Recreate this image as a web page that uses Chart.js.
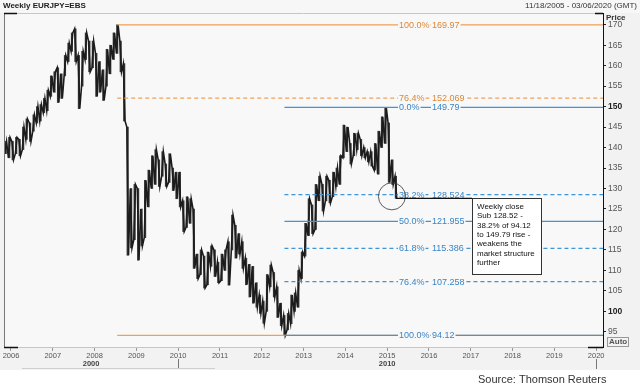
<!DOCTYPE html>
<html>
<head>
<meta charset="utf-8">
<script src="https://cdn.jsdelivr.net/npm/chart.js@4"></script>
<style>
  html, body { margin: 0; padding: 0; background: #fff; }
  #wrap { width: 640px; height: 392px; }
</style>
</head>
<body>
<div id="wrap"><canvas id="fx" width="640" height="392"></canvas></div>
<script>
// monthly high/low ranges
const months = [
  '2005-11', '2005-12',
  '2006-01', '2006-02', '2006-03', '2006-04', '2006-05', '2006-06', '2006-07', '2006-08', '2006-09', '2006-10', '2006-11', '2006-12',
  '2007-01', '2007-02', '2007-03', '2007-04', '2007-05', '2007-06', '2007-07', '2007-08', '2007-09', '2007-10', '2007-11', '2007-12',
  '2008-01', '2008-02', '2008-03', '2008-04', '2008-05', '2008-06', '2008-07', '2008-08', '2008-09', '2008-10', '2008-11', '2008-12',
  '2009-01', '2009-02', '2009-03', '2009-04', '2009-05', '2009-06', '2009-07', '2009-08', '2009-09', '2009-10', '2009-11', '2009-12',
  '2010-01', '2010-02', '2010-03', '2010-04', '2010-05', '2010-06', '2010-07', '2010-08', '2010-09', '2010-10', '2010-11', '2010-12',
  '2011-01', '2011-02', '2011-03', '2011-04', '2011-05', '2011-06', '2011-07', '2011-08', '2011-09', '2011-10', '2011-11', '2011-12',
  '2012-01', '2012-02', '2012-03', '2012-04', '2012-05', '2012-06', '2012-07', '2012-08', '2012-09', '2012-10', '2012-11', '2012-12',
  '2013-01', '2013-02', '2013-03', '2013-04', '2013-05', '2013-06', '2013-07', '2013-08', '2013-09', '2013-10', '2013-11', '2013-12',
  '2014-01', '2014-02', '2014-03', '2014-04', '2014-05', '2014-06', '2014-07', '2014-08', '2014-09', '2014-10', '2014-11', '2014-12',
  '2015-01', '2015-02', '2015-03'
];
const lows = [
  138.5, 137.5,
  137.0, 138.5, 138.0, 139.5, 142.0, 141.5, 144.0, 146.0, 146.5, 148.5, 149.0, 152.5,
  153.5, 151.0, 152.0, 157.5, 161.0, 163.5, 161.0, 149.5, 155.0, 161.5, 158.5, 159.5,
  152.5, 153.5, 151.5, 155.0, 158.0, 161.5, 163.0, 158.5, 146.5, 113.7, 115.5, 117.5,
  112.5, 116.0, 118.0, 125.5, 130.0, 131.0, 130.5, 133.0, 130.5, 131.5, 129.5, 127.5,
  125.5, 119.5, 120.5, 121.5, 110.5, 108.0, 109.0, 105.7, 106.5, 111.0, 108.5, 107.0,
  107.5, 110.0, 106.4, 115.0, 113.0, 114.0, 110.5, 106.5, 103.5, 102.0, 101.0, 99.5,
  97.1, 100.0, 106.0, 103.5, 98.5, 96.5, 94.12, 95.5, 97.0, 100.0, 101.0, 108.0,
  113.5, 118.5, 119.0, 120.0, 127.0, 124.5, 127.0, 126.5, 128.0, 130.5, 131.0, 137.5,
  139.0, 136.0, 138.0, 139.5, 138.0, 137.5, 136.5, 135.5, 134.5, 133.5, 140.0, 141.0,
  131.5, 131.0, 127.6
];
const highs = [
  141.5, 142.5,
  141.5, 142.5, 142.0, 145.0, 147.0, 146.0, 148.0, 150.0, 150.5, 152.0, 154.0, 157.5,
  158.5, 159.5, 158.0, 162.5, 165.5, 168.0, 169.0, 162.5, 163.5, 168.0, 166.0, 166.0,
  163.0, 161.0, 159.0, 164.0, 165.0, 168.0, 169.97, 166.0, 160.5, 145.0, 130.0, 131.0,
  130.0, 125.0, 132.0, 134.5, 138.0, 139.5, 137.0, 139.0, 136.0, 138.5, 135.0, 134.0,
  134.0, 127.0, 128.0, 127.5, 125.0, 114.0, 115.0, 113.5, 114.5, 116.0, 115.0, 112.0,
  114.0, 115.0, 117.0, 123.5, 121.0, 119.0, 117.0, 113.0, 111.5, 111.0, 107.0, 104.0,
  102.5, 109.0, 111.3, 109.5, 106.0, 102.0, 99.0, 99.5, 104.0, 104.5, 110.0, 114.5,
  121.5, 127.5, 126.0, 131.0, 133.0, 131.0, 133.0, 132.0, 134.0, 135.0, 138.0, 145.5,
  145.0, 141.0, 143.5, 143.5, 142.0, 140.0, 139.0, 139.0, 141.0, 144.0, 147.5, 149.79,
  146.0, 137.0, 133.0
];

// fibonacci retracements
const orangeStart = '2008-07';
const orangePcts = ['100.0%', '76.4%', '0.0%'];
const orangeValues = [169.97, 152.069, 94.12];
const blueStart = '2012-07';
const bluePcts = ['0.0%', '38.2%', '50.0%', '61.8%', '76.4%', '100.0%'];
const blueValues = [149.79, 128.524, 121.955, 115.386, 107.258, 94.12];

const years = [2006, 2007, 2008, 2009, 2010, 2011, 2012, 2013, 2014, 2015, 2016, 2017, 2018, 2019, 2020];
const priceTicks = [95, 100, 105, 110, 115, 120, 125, 130, 135, 140, 145, 150, 155, 160, 165, 170];
const decades = ['2000', '2010'];
const decadeSpans = [[2005.833, 2010], [2010, 2020]];

const noteLines = ['Weekly close', 'Sub 128.52 -', '38.2% of 94.12', 'to 149.79 rise -',
  'weakens the', 'market structure', 'further'];

const xMin = 2005.833, xMax = 2020.163;
const yMin = 91.3, yMax = 172.86;
const FONT = '"Liberation Sans", Arial, sans-serif';

function monthToYear(s) {
  const [y, m] = s.split('-').map(Number);
  return y + (m - 0.5) / 12;
}

// the month's low and high, visited in the order the market moved
const pathPoints = [];
months.forEach((m, i) => {
  const t = monthToYear(m);
  const prevMid = i > 0 ? (lows[i - 1] + highs[i - 1]) / 2 : lows[i];
  const falling = (lows[i] + highs[i]) / 2 < prevMid;
  const first = falling ? highs[i] : lows[i];
  const second = falling ? lows[i] : highs[i];
  pathPoints.push({ x: t - 0.02, y: first }, { x: t + 0.02, y: second });
});

const ORANGE_LINE = '#f0a055', ORANGE_TEXT = '#dc8736';
const BLUE_LINE = '#3f95d6', BLUE_TEXT = '#3a84c4';
const PLOT_BG = '#f8f8f8';

function isDashed(pct) {
  return !(pct === '0.0%' || pct === '50.0%' || pct === '100.0%');
}

function fibDataset(start, pct, value, color) {
  return {
    type: 'line',
    data: [{ x: monthToYear(start), y: value }, { x: xMax, y: value }],
    borderColor: color,
    backgroundColor: color,
    borderWidth: 1.2,
    borderDash: isDashed(pct) ? [4, 3] : [],
    pointRadius: 0,
    fill: false,
  };
}

const fibSets = [];
bluePcts.forEach((p, i) => fibSets.push(fibDataset(blueStart, p, blueValues[i], BLUE_LINE)));
orangePcts.forEach((p, i) => fibSets.push(fibDataset(orangeStart, p, orangeValues[i], ORANGE_LINE)));

const decor = {
  id: 'decor',
  beforeDraw(chart) {
    const { ctx, chartArea: a } = chart;
    ctx.save();
    ctx.fillStyle = '#ffffff';
    ctx.fillRect(0, 0, 640, 392);
    ctx.fillStyle = '#f2f2f2';
    ctx.fillRect(0, 0, 640, 370);
    ctx.fillStyle = '#f7f7f7';
    ctx.fillRect(0, 0, 640, a.top);
    ctx.fillStyle = PLOT_BG;
    ctx.fillRect(a.left, a.top, a.right - a.left, a.bottom - a.top);
    ctx.restore();
  },
  afterDatasetsDraw(chart) {
    const { ctx, chartArea: a, scales: { x, y } } = chart;
    ctx.save();

    // fib labels sitting on the lines
    ctx.font = '9px ' + FONT;
    ctx.textBaseline = 'middle';
    const label = (pct, val, color) => {
      const py = Math.round(y.getPixelForValue(val)) + 0.5;
      const x1 = a.left + 395, x2 = a.left + 428;
      ctx.fillStyle = PLOT_BG;
      ctx.fillRect(x1 - 1, py - 5, ctx.measureText(pct).width + 2, 10);
      ctx.fillRect(x2 - 1, py - 5, ctx.measureText(String(val)).width + 2, 10);
      ctx.fillStyle = color;
      ctx.fillText(pct, x1, py);
      ctx.fillText(String(val), x2, py);
    };
    orangePcts.forEach((p, i) => {
      if (!blueValues.includes(orangeValues[i])) label(p, orangeValues[i], ORANGE_TEXT);
    });
    bluePcts.forEach((p, i) => label(p, blueValues[i], BLUE_TEXT));

    // circle on the last weekly close and the note box
    const last = months.length - 1;
    const cx = x.getPixelForValue(monthToYear(months[last]));
    const cy = y.getPixelForValue(lows[last]);
    ctx.strokeStyle = '#333';
    ctx.lineWidth = 0.8;
    ctx.beginPath();
    ctx.arc(cx - 4, cy - 2, 13.5, 0, Math.PI * 2);
    ctx.stroke();

    const bx = 472, bw = 69, bh = 76;
    ctx.strokeStyle = '#111';
    ctx.lineWidth = 1.2;
    ctx.beginPath();
    ctx.moveTo(cx, cy);
    ctx.lineTo(bx, cy);
    ctx.stroke();
    ctx.fillStyle = '#ffffff';
    ctx.fillRect(bx, cy, bw, bh);
    ctx.lineWidth = 1;
    ctx.strokeStyle = '#333';
    ctx.strokeRect(bx + 0.5, Math.round(cy) + 0.5, bw, bh);
    ctx.fillStyle = '#111';
    ctx.font = '8px ' + FONT;
    noteLines.forEach((t, i) => ctx.fillText(t, bx + 5, cy + 8.5 + i * 9.3));

    // frame with dark corners
    ctx.lineWidth = 1;
    ctx.strokeStyle = '#c6c6c6';
    ctx.beginPath();
    ctx.moveTo(a.left, a.top + 0.5); ctx.lineTo(a.right, a.top + 0.5);
    ctx.moveTo(a.left, a.bottom + 0.5); ctx.lineTo(a.right, a.bottom + 0.5);
    ctx.stroke();
    ctx.strokeStyle = '#777';
    ctx.beginPath();
    ctx.moveTo(a.left + 0.5, a.top); ctx.lineTo(a.left + 0.5, a.bottom);
    ctx.stroke();
    ctx.strokeStyle = '#111';
    ctx.lineWidth = 1.5;
    ctx.beginPath();
    ctx.moveTo(a.left, a.top + 0.5); ctx.lineTo(a.left + 13, a.top + 0.5);
    ctx.moveTo(a.left, a.bottom + 0.5); ctx.lineTo(a.left + 14, a.bottom + 0.5);
    ctx.moveTo(a.right - 15, a.bottom + 0.5); ctx.lineTo(a.right, a.bottom + 0.5);
    ctx.moveTo(a.right - 8, a.top + 0.5); ctx.lineTo(a.right, a.top + 0.5);
    ctx.stroke();

    // texts around the chart
    ctx.textBaseline = 'middle';
    ctx.fillStyle = '#222';
    ctx.font = 'bold 8px ' + FONT;
    ctx.textAlign = 'left';
    ctx.fillText('Weekly EURJPY=EBS', 3, 6);
    ctx.font = '8px ' + FONT;
    ctx.textAlign = 'right';
    ctx.fillStyle = '#333';
    ctx.fillText('11/18/2005 - 03/06/2020 (GMT)', 637, 6);
    ctx.textAlign = 'left';
    ctx.font = 'bold 8px ' + FONT;
    ctx.fillText('Price', 606, 17.5);

    ctx.fillStyle = '#555';
    ctx.fillText('Auto', 609, 342);
    ctx.strokeStyle = '#999';
    ctx.lineWidth = 1;
    ctx.strokeRect(607.5, 337.5, 21, 9);

    // decade row
    ctx.textAlign = 'center';
    ctx.fillStyle = '#444';
    ctx.font = 'bold 7.5px ' + FONT;
    decades.forEach((d, i) => {
      const [s, e] = decadeSpans[i];
      ctx.fillText(d, (x.getPixelForValue(s) + x.getPixelForValue(e)) / 2, 364);
    });
    ctx.strokeStyle = '#777';
    ctx.beginPath();
    [2010, 2020].forEach(v => {
      const px = Math.round(x.getPixelForValue(v)) + 0.5;
      ctx.moveTo(px, 359); ctx.lineTo(px, 369);
    });
    ctx.stroke();
    ctx.strokeStyle = '#cfcfcf';
    ctx.beginPath();
    ctx.moveTo(22, 368.5); ctx.lineTo(215, 368.5);
    ctx.stroke();

    ctx.textAlign = 'left';
    ctx.fillStyle = '#333';
    ctx.font = '11px ' + FONT;
    ctx.fillText('Source: Thomson Reuters', 478, 380);
    ctx.restore();
  }
};

new Chart(document.getElementById('fx'), {
  type: 'bar',
  data: {
    datasets: [
      ...fibSets,
      {
        type: 'line',
        data: pathPoints,
        borderColor: '#1c1c1c',
        borderWidth: 1.6,
        pointRadius: 0,
        tension: 0,
        fill: false,
      },
      {
        type: 'bar',
        data: months.map((m, i) => ({ x: monthToYear(m), y: [lows[i], highs[i]] })),
        backgroundColor: '#3a3a3a',
        borderWidth: 0,
        barThickness: 1.5,
      },
    ],
  },
  options: {
    responsive: false,
    animation: false,
    events: [],
    layout: { padding: { left: 4, top: 13, right: 0, bottom: 0 } },
    plugins: { legend: { display: false }, tooltip: { enabled: false } },
    scales: {
      x: {
        type: 'linear',
        min: xMin,
        max: xMax,
        offset: false,
        afterBuildTicks: s => { s.ticks = years.map(v => ({ value: v })); },
        afterFit: s => { s.height = 45; s.paddingLeft = 0; s.paddingRight = 0; },
        grid: { drawOnChartArea: false, offset: false, tickLength: 4, color: '#999' },
        border: { display: false },
        ticks: {
          color: '#555',
          padding: 0,
          maxRotation: 0,
          autoSkip: false,
          font: { family: FONT, size: 7.5 },
          callback: v => String(v),
        },
      },
      y: {
        position: 'right',
        min: yMin,
        max: yMax,
        afterBuildTicks: s => { s.ticks = priceTicks.map(v => ({ value: v })); },
        afterFit: s => { s.width = 37; s.paddingTop = 0; s.paddingBottom = 0; },
        grid: { drawOnChartArea: false, tickLength: 3, color: '#222' },
        border: { display: true, color: '#111', width: 1 },
        ticks: {
          padding: 2,
          autoSkip: false,
          color: c => (c.tick && c.tick.value % 50 === 0 ? '#222' : '#555'),
          font: c => ({ family: FONT, size: 8.5, weight: c.tick && c.tick.value % 50 === 0 ? 'bold' : 'normal' }),
          callback: v => String(v),
        },
      },
    },
  },
  plugins: [decor],
});
</script>
</body>
</html>
